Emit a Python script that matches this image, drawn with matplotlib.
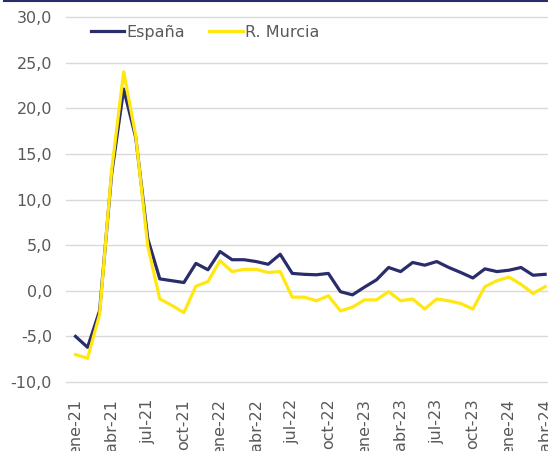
import matplotlib
matplotlib.use('Agg')
from matplotlib import pyplot as plt
from matplotlib.lines import Line2D

# ene-21 .. abr-24, monthly
months = ['ene', 'feb', 'mar', 'abr', 'may', 'jun',
          'jul', 'ago', 'sep', 'oct', 'nov', 'dic']
years = ['21', '22', '23', '24']
labels = [f'{m}-{y}' for y in years for m in months][:40]

espana = [-5.0, -6.2, -2.2, 12.8, 22.1, 16.8, 5.7, 1.3, 1.1, 0.9, 3.0, 2.3,
          4.3, 3.4, 3.4, 3.2, 2.9, 4.0, 1.9, 1.8, 1.75, 1.9, -0.1, -0.45,
          0.4, 1.2, 2.55, 2.1, 3.1, 2.8, 3.2, 2.55, 2.0, 1.4, 2.4, 2.1,
          2.25, 2.55, 1.7, 1.8]
murcia = [-7.0, -7.4, -2.6, 13.2, 24.0, 17.0, 4.9, -0.9, -1.6, -2.4, 0.5, 1.0,
          3.3, 2.1, 2.35, 2.35, 2.0, 2.1, -0.7, -0.7, -1.1, -0.55, -2.2, -1.8,
          -1.0, -1.0, -0.1, -1.1, -0.9, -2.0, -0.9, -1.1, -1.4, -2.0, 0.45, 1.1,
          1.5, 0.7, -0.3, 0.45]

navy = '#2a2d6b'
yellow = '#ffe70f'
grey = '#595959'

fig = plt.figure(figsize=(5.48, 4.51), dpi=100)
ax = fig.add_axes([66 / 548, 69 / 451, 482 / 548, 365 / 451])

x = list(range(len(labels)))
ax.plot(x, espana, color=navy, linewidth=2.3, label='España', zorder=3)
ax.plot(x, murcia, color=yellow, linewidth=2.3, label='R. Murcia', zorder=3)

ax.set_ylim(-10, 30)
ax.set_xlim(-0.79, 39.24)
ax.set_yticks(range(-10, 31, 5))
ax.set_yticklabels([f'{v},0' for v in range(-10, 31, 5)])
ax.set_xticks(x[::3])
ax.set_xticklabels(labels[::3], rotation=90)

ax.grid(axis='y', color='#d9d9d9', linewidth=1)
for gl in ax.get_ygridlines():
    gl.set_clip_on(False)
ax.set_axisbelow(True)
for s in ax.spines.values():
    s.set_visible(False)
ax.tick_params(axis='both', length=0, colors=grey, labelsize=11.5)
ax.tick_params(axis='x', pad=12)
ax.tick_params(axis='y', pad=10)

ax.legend(loc='upper left', bbox_to_anchor=(0.035, 1.0), ncol=2,
          frameon=False, fontsize=11.5, labelcolor=grey,
          handlelength=2.1, handletextpad=0.15, columnspacing=1.5,
          borderaxespad=0.1)

# thin border line along the top
fig.add_artist(Line2D([4 / 548, 1], [1 - 1 / 451, 1 - 1 / 451],
                      color=navy, linewidth=1.5))

fig.savefig('out.png', dpi=100)
